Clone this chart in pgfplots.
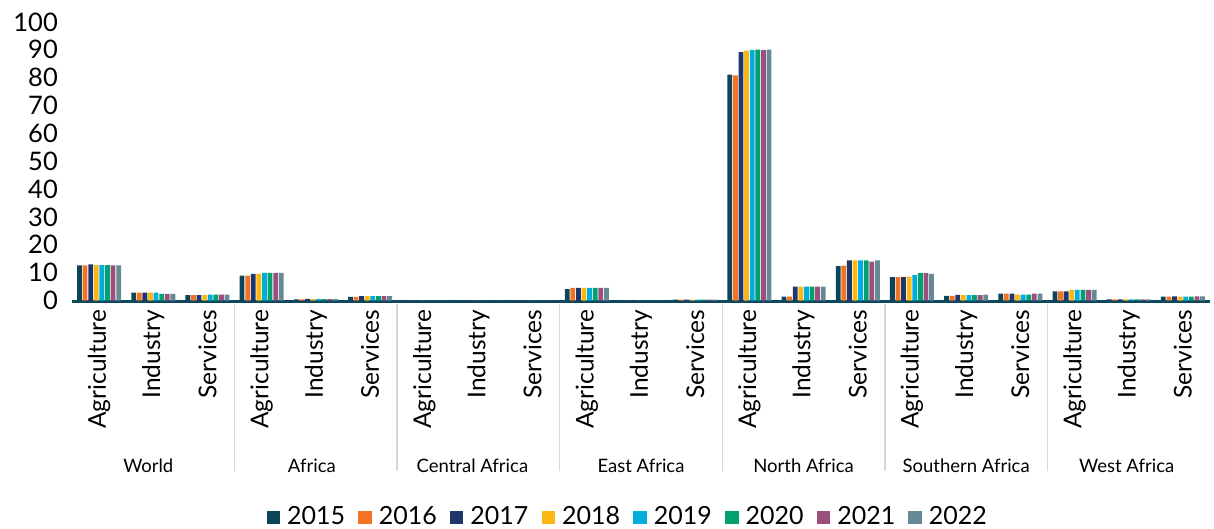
\documentclass[border=0pt]{standalone}
\usepackage{pgfplots}
\usepackage{pgfplotstable}
\pgfplotsset{compat=1.18}
\usepackage{fontspec}
\setmainfont{Lato}

\definecolor{c2015}{RGB}{11,69,90}
\definecolor{c2016}{RGB}{243,115,37}
\definecolor{c2017}{RGB}{30,54,107}
\definecolor{c2018}{RGB}{252,183,21}
\definecolor{c2019}{RGB}{0,173,219}
\definecolor{c2020}{RGB}{0,160,112}
\definecolor{c2021}{RGB}{155,79,125}
\definecolor{c2022}{RGB}{102,137,150}
\definecolor{axisteal}{RGB}{14,72,92}
\definecolor{sepgray}{RGB}{215,215,215}

% Share by region and sector (0-20: World, Africa, Central, East, North, Southern, West; each Agriculture/Industry/Services)
\pgfplotstableread{
x  y2015 y2016 y2017 y2018 y2019 y2020 y2021 y2022
0  12.6  12.6  13.0  12.7  12.7  12.7  12.6  12.6
1  2.8   2.8   2.8   2.8   2.8   2.4   2.4   2.4
2  1.9   1.9   1.9   1.9   2.1   2.1   2.1   2.1
3  8.9   8.9   9.6   9.6   9.9   9.9   9.9   9.9
4  0.4   0.4   0.6   0.5   0.6   0.5   0.5   0.5
5  1.3   1.3   1.6   1.6   1.6   1.6   1.6   1.6
6  0     0     0     0     0     0     0     0
7  0     0     0     0     0     0     0     0
8  0     0     0     0     0     0     0     0
9  4.1   4.5   4.5   4.5   4.5   4.5   4.5   4.5
10 0     0     0     0     0     0     0     0
11 0.3   0.3   0.3   0.3   0.3   0.3   0.3   0.3
12 81.1  80.8  89.2  89.7  89.9  90.1  89.9  90.1
13 1.4   1.4   5.0   5.0   5.0   5.0   5.0   5.0
14 12.3  12.5  14.4  14.4  14.4  14.4  14.0  14.4
15 8.4   8.4   8.4   8.6   9.1   9.8   9.8   9.6
16 1.7   1.7   2.0   1.9   1.9   1.9   1.9   2.1
17 2.5   2.5   2.5   2.1   2.1   2.1   2.5   2.5
18 3.3   3.3   3.3   3.8   3.8   3.8   3.8   3.8
19 0.4   0.4   0.4   0.4   0.4   0.4   0.4   0.4
20 1.4   1.4   1.5   1.4   1.4   1.4   1.5   1.5
}\shares

\pgfplotsset{
  yearbar/.style={fill=#1, draw=none,
    legend image code/.code={\fill[#1] (0bp,-8bp) rectangle (13.5bp,5.5bp);}},
}

\newcommand{\catfont}{\fontsize{24.5bp}{28bp}\selectfont}
\newcommand{\grpfont}{\fontsize{18.5bp}{22bp}\selectfont}
\newcommand{\numfont}{\fontsize{25.5bp}{30bp}\selectfont}
\newcommand{\legfont}{\fontsize{25bp}{30bp}\selectfont}

\begin{document}
\begin{tikzpicture}
\useasboundingbox (0,0) rectangle (1214bp,529bp);
\begin{axis}[
  at={(72bp,228.5bp)}, anchor=south west,
  scale only axis, width=1138bp, height=278.5bp,
  xmin=-0.5, xmax=20.5, ymin=0, ymax=100,
  ybar=0.8bp, bar width=4.8bp,
  axis line style={draw=none},
  tick style={draw=none}, major tick length=0pt,
  xtick={0,...,20},
  xticklabels={Agriculture,Industry,Services,Agriculture,Industry,Services,
    Agriculture,Industry,Services,Agriculture,Industry,Services,
    Agriculture,Industry,Services,Agriculture,Industry,Services,
    Agriculture,Industry,Services},
  xticklabel style={rotate=90, anchor=east, font=\catfont, inner sep=0pt, xshift=-9bp},
  ytick={0,10,...,100},
  yticklabel style={font=\numfont, inner sep=0pt, xshift=-14bp},
  /pgf/number format/assume math mode=true,
  clip=false,
  legend columns=8,
  legend style={at={(0.4875,-0.774)}, anchor=center, draw=none, fill=none,
    font=\legfont, inner sep=0pt, nodes={inner sep=0pt},
    /tikz/every odd column/.append style={column sep=7bp},
    /tikz/every even column/.append style={column sep=13.2bp}},
]
% category axis line, sitting just below the zero level
\draw[axisteal, line width=2.2bp] ([yshift=-1.1bp]axis cs:-0.5,0) -- ([yshift=-1.1bp]axis cs:20.5,0);

\addplot[yearbar=c2015] table[x=x,y=y2015] {\shares};
\addplot[yearbar=c2016] table[x=x,y=y2016] {\shares};
\addplot[yearbar=c2017] table[x=x,y=y2017] {\shares};
\addplot[yearbar=c2018] table[x=x,y=y2018] {\shares};
\addplot[yearbar=c2019] table[x=x,y=y2019] {\shares};
\addplot[yearbar=c2020] table[x=x,y=y2020] {\shares};
\addplot[yearbar=c2021] table[x=x,y=y2021] {\shares};
\addplot[yearbar=c2022] table[x=x,y=y2022] {\shares};
\legend{2015,2016,2017,2018,2019,2020,2021,2022}

% group separators below the axis
\draw[sepgray, line width=1.5bp] ([yshift=-3bp]axis cs:2.5,0) -- ([yshift=-170bp]axis cs:2.5,0);
\draw[sepgray, line width=1.5bp] ([yshift=-3bp]axis cs:5.5,0) -- ([yshift=-170bp]axis cs:5.5,0);
\draw[sepgray, line width=1.5bp] ([yshift=-3bp]axis cs:8.5,0) -- ([yshift=-170bp]axis cs:8.5,0);
\draw[sepgray, line width=1.5bp] ([yshift=-3bp]axis cs:11.5,0) -- ([yshift=-170bp]axis cs:11.5,0);
\draw[sepgray, line width=1.5bp] ([yshift=-3bp]axis cs:14.5,0) -- ([yshift=-170bp]axis cs:14.5,0);
\draw[sepgray, line width=1.5bp] ([yshift=-3bp]axis cs:17.5,0) -- ([yshift=-170bp]axis cs:17.5,0);

% region names
\node[font=\grpfont] at ([xshift=-5bp,yshift=-165bp]axis cs:1,0) {World};
\node[font=\grpfont] at ([xshift=-4bp,yshift=-165bp]axis cs:4,0) {Africa};
\node[font=\grpfont] at ([xshift=-6bp,yshift=-165bp]axis cs:7,0) {Central Africa};
\node[font=\grpfont] at ([yshift=-165bp]axis cs:10,0) {East Africa};
\node[font=\grpfont] at ([yshift=-165bp]axis cs:13,0) {North Africa};
\node[font=\grpfont] at ([yshift=-165bp]axis cs:16,0) {Southern Africa};
\node[font=\grpfont] at ([xshift=-2bp,yshift=-165bp]axis cs:19,0) {West Africa};
\end{axis}
\end{tikzpicture}
\end{document}
